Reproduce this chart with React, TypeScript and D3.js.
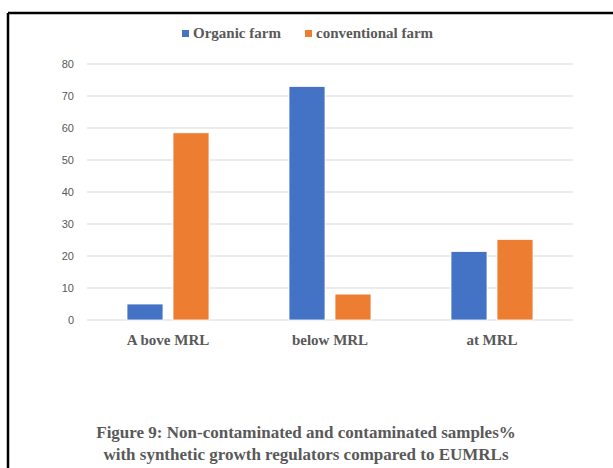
import React from "react";
import * as d3 from "d3";

const categories = ["A bove MRL", "below MRL", "at MRL"];
const seriesNames = ["Organic farm", "conventional farm"];
const organic = [5, 73, 21.4];
const conventional = [58.5, 8.1, 25.2];
const yTicks = [0, 10, 20, 30, 40, 50, 60, 70, 80];
const titleLines = [
  "Figure 9: Non-contaminated and contaminated samples%",
  "with synthetic growth regulators compared to EUMRLs",
];
const colors = ["#4472C4", "#ED7D31"];

export default function App() {
  const W = 613, H = 468;
  const x0 = 87, x1 = 573, yTop = 64, yBot = 320;
  const x = d3.scaleBand().domain(categories).range([x0, x1]);
  const y = d3.scaleLinear().domain([0, 80]).range([yBot, yTop]);
  const barW = 36, gap = 10;
  const series = [organic, conventional];
  const text = "#595959";
  const serif = "'Liberation Serif', 'Times New Roman', serif";
  return (
    <svg width={W} height={H} style={{ position: "absolute", left: 0, top: 0, background: "#fff" }}>
      <rect x={0} y={0} width={W} height={H} fill="#fff" />
      <line x1={8} y1={13} x2={W} y2={13} stroke="#000" strokeWidth={2.5} />
      <line x1={8} y1={13} x2={8} y2={H} stroke="#000" strokeWidth={2.5} />
      {/* legend */}
      <g fontFamily={serif} fontWeight="bold" fontSize={15} fill={text}>
        <rect x={182} y={30} width={7} height={7} fill={colors[0]} />
        <text x={193} y={38}>{seriesNames[0]}</text>
        <rect x={305} y={30} width={7} height={7} fill={colors[1]} />
        <text x={316} y={38}>{seriesNames[1]}</text>
      </g>
      {/* grid + ticks */}
      {yTicks.map((t) => (
        <g key={t}>
          <line x1={x0} x2={x1} y1={y(t)} y2={y(t)} stroke="#d9d9d9" strokeWidth={1} />
          <text
            x={74}
            y={y(t) + 4}
            textAnchor="end"
            fontFamily="'Liberation Sans Narrow', 'Liberation Sans', sans-serif"
            fontSize={11}
            fill={text}
          >
            {t}
          </text>
        </g>
      ))}
      {/* bars */}
      {categories.map((c, i) => {
        const cx = (x(c) as number) + x.bandwidth() / 2;
        return (
          <g key={c}>
            {series.map((s, j) => {
              const bx = j === 0 ? cx - gap / 2 - barW : cx + gap / 2;
              return (
                <rect
                  key={j}
                  x={bx}
                  y={y(s[i])}
                  width={barW}
                  height={y(0) - y(s[i])}
                  fill={colors[j]}
                  stroke="#fff"
                  strokeWidth={0.8}
                />
              );
            })}
            <text
              x={cx}
              y={345}
              textAnchor="middle"
              fontFamily={serif}
              fontWeight="bold"
              fontSize={15}
              fill={text}
            >
              {c}
            </text>
          </g>
        );
      })}
      {/* title */}
      <g fontFamily={serif} fontWeight="bold" fontSize={17} fill={text} textAnchor="middle">
        <text x={306} y={438}>{titleLines[0]}</text>
        <text x={306} y={460}>{titleLines[1]}</text>
      </g>
    </svg>
  );
}
